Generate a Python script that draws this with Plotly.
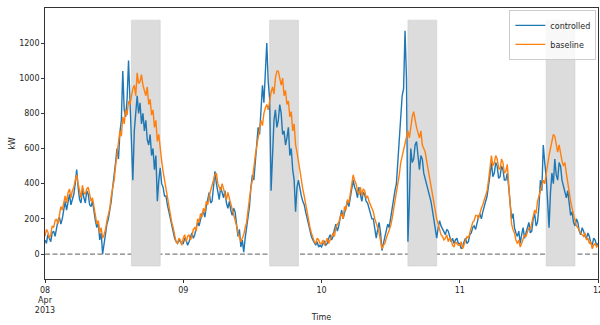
import pandas as pd
import plotly.graph_objects as go

# ---------------- data (15-minute samples) ----------------
times = pd.date_range("2013-04-08 00:00", "2013-04-12 00:00", freq="15min")

controlled_apr08 = [80, 60, 110, 90, 70, 120, 130, 100, 160, 190, 210, 170,
                    200, 260, 300, 250, 310, 340, 280, 310, 340, 400, 480, 380,
                    310, 290, 370, 320, 290, 360, 340, 280, 270, 300, 230, 190,
                    150, 180, 80, 120, 0, 60, 120, 170, 200, 240, 300, 380,
                    440, 520, 600, 540, 690, 760, 1040, 820, 780, 880, 1100, 900,
                    720, 420, 700, 820, 900, 800, 860, 740, 800, 700, 760, 650,
                    620, 680, 560, 600, 480, 560, 300, 420, 490, 400, 380, 330,
                    330, 280, 240, 200, 150, 130, 90, 70, 60, 80, 70, 60]
controlled_apr09 = [60, 90, 80, 50, 70, 100, 120, 90, 110, 150, 180, 160,
                    200, 230, 240, 210, 270, 320, 350, 290, 300, 380, 470, 400,
                    340, 310, 380, 350, 320, 360, 290, 260, 300, 250, 220, 260,
                    240, 170, 100, 140, 40, 80, 10, 90, 150, 210, 270, 380,
                    450, 420, 540, 640, 720, 680, 800, 960, 860, 1000, 1200, 980,
                    880, 360, 600, 760, 820, 720, 760, 850, 800, 680, 700, 620,
                    660, 720, 560, 600, 480, 420, 240, 380, 420, 360, 330, 300,
                    280, 240, 200, 160, 120, 100, 80, 60, 50, 70, 40, 50]
controlled_apr10 = [40, 60, 70, 50, 60, 90, 110, 80, 100, 140, 170, 130,
                    160, 210, 250, 200, 240, 280, 300, 270, 330, 380, 420, 380,
                    360, 320, 380, 340, 300, 350, 340, 300, 290, 260, 230, 200,
                    200, 150, 90, 140, 180, 120, 20, 60, 100, 140, 170, 150,
                    210, 260, 300, 360, 400, 520, 640, 780, 900, 940, 1270, 1000,
                    70, 300, 600, 520, 540, 620, 640, 560, 480, 560, 540, 460,
                    430, 400, 360, 330, 300, 250, 200, 130, 90, 150, 190, 160,
                    140, 120, 110, 140, 130, 100, 70, 90, 60, 80, 90, 60]
controlled_apr11 = [60, 30, 40, 70, 90, 60, 70, 110, 120, 150, 160, 140,
                    180, 210, 230, 200, 240, 280, 300, 330, 380, 450, 520, 440,
                    460, 520, 500, 430, 440, 500, 480, 420, 420, 460, 380, 280,
                    200, 230, 150, 120, 100, 130, 60, 110, 150, 90, 120, 160,
                    180, 120, 130, 200, 230, 160, 180, 270, 420, 360, 620, 520,
                    440, 300, 150, 350, 460, 400, 540, 450, 420, 520, 500, 420,
                    380, 350, 320, 360, 280, 220, 240, 180, 160, 200, 180, 130,
                    110, 150, 130, 100, 90, 120, 100, 60, 50, 90, 80, 50, 60]

baseline_apr08 = [100, 140, 125, 90, 110, 160, 150, 190, 200, 170, 220, 270,
                  250, 300, 330, 290, 350, 370, 320, 360, 380, 420, 450, 400,
                  360, 320, 390, 350, 340, 370, 380, 330, 300, 320, 260, 220,
                  170, 190, 120, 150, 90, 110, 140, 190, 220, 260, 330, 370,
                  420, 500, 560, 640, 700, 670, 780, 740, 820, 790, 870, 850,
                  900, 940, 960, 900, 1030, 970, 980, 1020, 960, 930, 900, 950,
                  850, 880, 790, 820, 720, 760, 640, 680, 580, 530, 470, 420,
                  370, 330, 280, 230, 180, 150, 110, 70, 60, 90, 80, 50]
baseline_apr09 = [90, 110, 70, 100, 110, 80, 100, 140, 150, 130, 200, 180,
                  230, 210, 260, 240, 300, 280, 330, 360, 380, 420, 450, 460,
                  400, 380, 360, 400, 370, 340, 310, 350, 320, 290, 260, 230,
                  200, 160, 120, 90, 70, 90, 110, 150, 180, 250, 320, 380,
                  420, 500, 560, 610, 660, 720, 760, 730, 800, 830, 850, 820,
                  880, 920, 950, 910, 1000, 1040, 1040, 990, 960, 1000, 900, 930,
                  850, 870, 780, 810, 700, 740, 620, 580, 520, 470, 420, 370,
                  330, 280, 230, 190, 150, 120, 90, 70, 60, 90, 80, 60]
baseline_apr10 = [60, 80, 50, 70, 90, 60, 80, 110, 120, 100, 150, 170,
                  180, 210, 230, 200, 270, 250, 310, 290, 350, 400, 450, 420,
                  400, 360, 340, 380, 330, 370, 360, 320, 330, 300, 280, 250,
                  240, 200, 180, 150, 120, 70, 30, 50, 60, 90, 110, 140,
                  160, 200, 250, 290, 330, 400, 450, 520, 560, 600, 640, 680,
                  700, 660, 740, 780, 810, 760, 720, 690, 660, 700, 620, 600,
                  580, 530, 480, 440, 400, 350, 300, 240, 200, 170, 140, 110,
                  100, 80, 90, 110, 70, 90, 80, 50, 40, 70, 60, 50]
baseline_apr11 = [50, 70, 30, 50, 70, 100, 90, 130, 150, 180, 190, 220,
                  220, 200, 240, 260, 280, 310, 330, 360, 420, 500, 560, 500,
                  520, 560, 540, 490, 480, 540, 520, 460, 470, 510, 400, 260,
                  170, 140, 120, 80, 60, 80, 40, 60, 80, 110, 100, 130,
                  150, 140, 180, 220, 250, 230, 300, 330, 360, 390, 420, 400,
                  460, 520, 560, 600, 640, 680, 670, 610, 580, 620, 560, 530,
                  500, 520, 460, 400, 330, 300, 260, 220, 180, 160, 150, 130,
                  120, 110, 100, 120, 80, 90, 60, 70, 30, 50, 60, 40, 50]

controlled = controlled_apr08 + controlled_apr09 + controlled_apr10 + controlled_apr11
baseline = baseline_apr08 + baseline_apr09 + baseline_apr10 + baseline_apr11

# control windows (shaded)
window_starts = ["2013-04-08 15:00", "2013-04-09 15:00", "2013-04-10 15:00", "2013-04-11 15:00"]
window_ends = ["2013-04-08 20:00", "2013-04-09 20:00", "2013-04-10 20:00", "2013-04-11 20:00"]
window_low, window_high = -68, 1330

tick_dates = ["2013-04-08", "2013-04-09", "2013-04-10", "2013-04-11", "2013-04-12"]
tick_labels = ["08<br>Apr<br>2013", "09", "10", "11", "12"]
y_ticks = [0, 200, 400, 600, 800, 1000, 1200]

# ---------------- figure ----------------
FONT = "DejaVu Sans"
TXT = "#262626"
fig = go.Figure()

for s, e in zip(window_starts, window_ends):
    fig.add_shape(type="rect", xref="x", yref="y", x0=s, x1=e,
                  y0=window_low, y1=window_high,
                  fillcolor="#dcdcdc", line=dict(color="#d0d0d0", width=0.6),
                  layer="below")

fig.add_shape(type="line", xref="paper", yref="y", x0=0, x1=1, y0=0, y1=0,
              line=dict(color="#7f7f7f", width=1.2, dash="5px,2.5px"), layer="below")

fig.add_trace(go.Scatter(x=times, y=controlled, mode="lines", name="controlled",
                         line=dict(color="#1f77b4", width=1.4)))
fig.add_trace(go.Scatter(x=times, y=baseline, mode="lines", name="baseline",
                         line=dict(color="#ff7f0e", width=1.4)))

fig.update_layout(
    width=600, height=325,
    margin=dict(l=45, r=2, t=8, b=46),
    paper_bgcolor="white", plot_bgcolor="white",
    font=dict(family=FONT, size=8, color=TXT),
    showlegend=True,
    legend=dict(x=0.997, y=0.993, xanchor="right", yanchor="top",
                bgcolor="rgba(255,255,255,0.8)", bordercolor="#cccccc", borderwidth=1,
                font=dict(family=FONT, size=8, color=TXT),
                itemwidth=30, tracegroupgap=0),
)

fig.update_xaxes(
    range=["2013-04-08 00:00", "2013-04-12 00:00"],
    tickmode="array", tickvals=tick_dates, ticktext=tick_labels,
    ticklabeloverflow="allow",
    showgrid=False, zeroline=False,
    showline=True, linecolor="#333333", linewidth=0.8, mirror=True,
    ticks="outside", ticklen=3, tickcolor="#333333", tickwidth=0.8,
    tickfont=dict(family=FONT, size=8, color=TXT),
    title=dict(text="Time", font=dict(family=FONT, size=8, color=TXT), standoff=0),
    automargin=False,
)
fig.update_yaxes(
    range=[-142, 1399],
    tickmode="array", tickvals=y_ticks,
    showgrid=False, zeroline=False,
    showline=True, linecolor="#333333", linewidth=0.8, mirror=True,
    ticks="outside", ticklen=3, tickcolor="#333333", tickwidth=0.8,
    tickfont=dict(family=FONT, size=8, color=TXT),
    title=dict(text="kW", font=dict(family=FONT, size=8, color=TXT), standoff=2),
    automargin=False,
)

fig.write_html("out.html",
               config={"displayModeBar": False},
               post_script="document.body.style.margin='0';document.body.style.overflow='hidden';")
